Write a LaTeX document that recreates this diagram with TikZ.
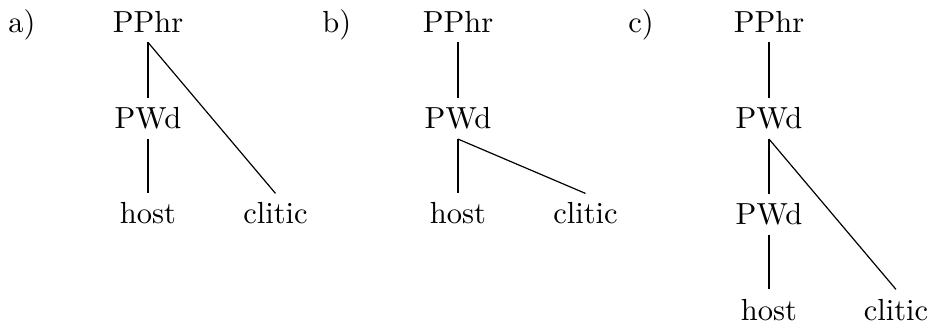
\documentclass[tikz,border=0pt]{standalone}
\usepackage{fontspec}
\newfontfamily\tenrm{lmroman10-regular.otf}
\begin{document}
\begin{tikzpicture}[x=0.5pt,y=-0.5pt,
  every node/.style={font=\tenrm\fontsize{15.25}{18}\selectfont},
  lab/.style={anchor=base west,inner sep=0pt},
  tn/.style={anchor=base,inner xsep=0pt,inner ysep=4.5pt},
  edge/.style={line width=0.6pt}]
\useasboundingbox (0,0) rectangle (929,325);
% a)
\node[lab] (la) at (8,33) {a)};
\node[tn] (a1) at (148,33) {PPhr};
\node[tn] (a2) at (148,129) {PWd};
\node[tn] (a3) at (148,224) {host};
\node[tn] (a4) at (275.5,224) {clitic};
\draw[edge] (a1.south) -- (a2.north);
\draw[edge] (a2.south) -- (a3.north);
\draw[edge] (a1.south) -- (a4.north);
% b)
\node[lab] (lb) at (322,33) {b)};
\node[tn] (b1) at (458,33) {PPhr};
\node[tn] (b2) at (458,129) {PWd};
\node[tn] (b3) at (458,224) {host};
\node[tn] (b4) at (585.5,224) {clitic};
\draw[edge] (b1.south) -- (b2.north);
\draw[edge] (b2.south) -- (b3.north);
\draw[edge] (b2.south) -- (b4.north);
% c)
\node[lab] (lc) at (628,33) {c)};
\node[tn] (c1) at (769,33) {PPhr};
\node[tn] (c2) at (769,129) {PWd};
\node[tn] (c3) at (769,225) {PWd};
\node[tn] (c4) at (769,320) {host};
\node[tn] (c5) at (896,320) {clitic};
\draw[edge] (c1.south) -- (c2.north);
\draw[edge] (c2.south) -- (c3.north);
\draw[edge] (c3.south) -- (c4.north);
\draw[edge] (c2.south) -- (c5.north);
\end{tikzpicture}
\end{document}
